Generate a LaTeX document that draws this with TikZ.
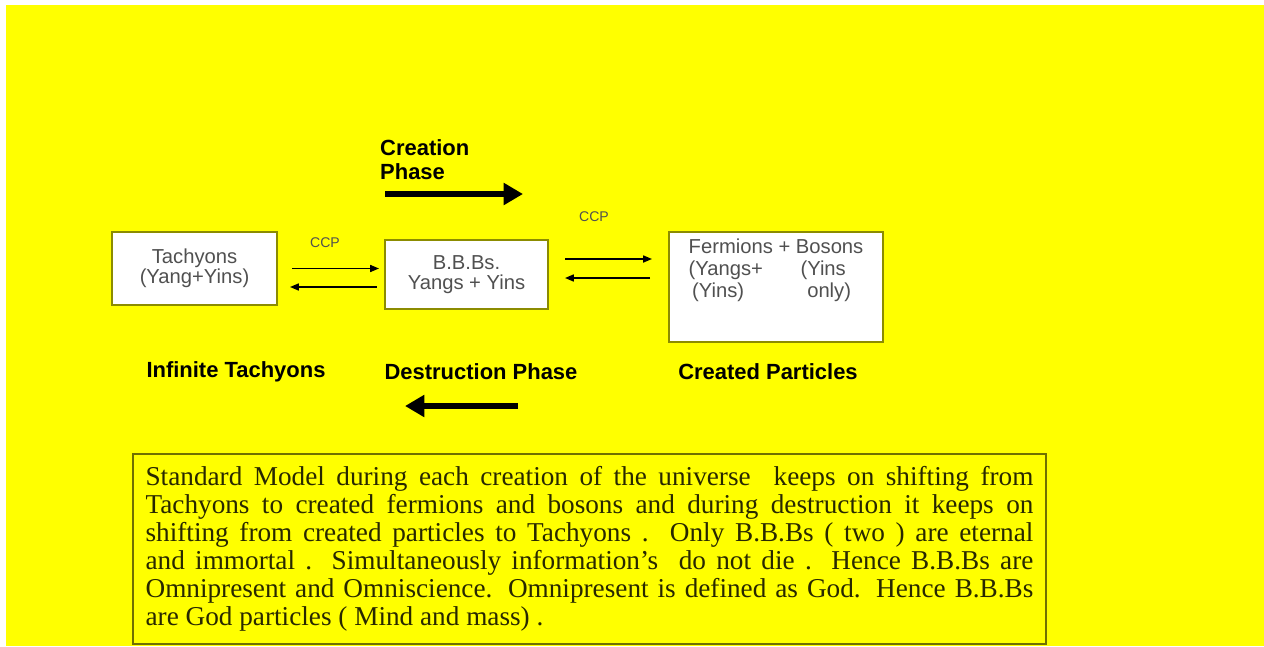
\documentclass[tikz,border=0pt]{standalone}
\usepackage{fontspec}
\setmainfont{Liberation Serif}
\setsansfont{Liberation Sans}
\usepackage{tikz}
\usetikzlibrary{positioning,calc,arrows.meta}

\definecolor{bgyellow}{RGB}{255,255,0}
\definecolor{boxline}{RGB}{140,140,0}
\definecolor{boxtext}{RGB}{80,80,80}
\definecolor{paratext}{RGB}{40,40,0}

\tikzset{
  partbox/.style = {draw=boxline, fill=white, line width=1.2pt, font=\sffamily\fontsize{11.5}{11.5}\selectfont, text=boxtext, align=center},
  phaselabel/.style = {font=\sffamily\bfseries\fontsize{12.5}{13.6}\selectfont, text=black},
  ccplabel/.style = {font=\sffamily\fontsize{8}{9}\selectfont, text=boxtext},
  thinarrow/.style = {-{Triangle[length=5pt,width=4pt]}, line width=0.8pt, black},
  fatarrow/.style = {-{Triangle[length=11pt,width=12pt]}, line width=3.4pt, black}
}

\begin{document}
\begin{tikzpicture}[x=0.02cm,y=-0.02cm]

\useasboundingbox (0,0) rectangle (1264,646);
\fill[white] (0,0) rectangle (1264,646);
\fill[bgyellow] (6,5) rectangle (1264,646);

% Particle boxes
\node[partbox, minimum width=3.3cm, minimum height=1.46cm] (tachyons) at (194.5,268.5) {Tachyons\\(Yang+Yins)};
\node[partbox, minimum width=3.26cm, minimum height=1.38cm] (bbbs) at (466.5,274.5) {B.B.Bs.\\Yangs + Yins};
\node[
   partbox,
   anchor = north west,
   minimum width = 4.28cm,
   minimum height = 2.04cm,
   inner xsep = 0.2cm,
   inner ysep = 0.12cm,
   align = left,
   font = \sffamily\fontsize{11.5}{12.5}\selectfont
] (fermions) at (668,231) {%
   \begin{tabular}[t]{@{}l@{\hspace{0.75cm}}l@{}}
   \multicolumn{2}{@{}l@{}}{Fermions + Bosons}\\
   (Yangs+ & (Yins\\
   \,(Yins) & \,\,only)\\[18pt]
   \end{tabular}};

\node[ccplabel] (ccpleft) at (325,243) {CCP};
\node[ccplabel] (ccpright) at (594,217) {CCP};

% Phase labels
\node[phaselabel, anchor=west, align=left] (creation) at (374,160) {Creation\\Phase};
\node[phaselabel] (infinite) at (236,372) {Infinite Tachyons};
\node[phaselabel] (destruction) at (481,372) {Destruction Phase};
\node[phaselabel] (created) at (768,372) {Created Particles};

\coordinate (creationstart) at (385,194);
\coordinate (creationend) at (523,194);
\coordinate (destructionstart) at (518,406);
\coordinate (destructionend) at (405,406);

% Connecting Arrows
\draw [thinarrow] ($(tachyons.east)+(14,0)$) -- ($(bbbs.west |- tachyons.east)+(-5,0)$);
\draw [thinarrow] ($(bbbs.west)+(-7,12.5)$) -- ($(tachyons.east |- bbbs.west)+(12,12.5)$);
\draw [thinarrow] ($(bbbs.east)+(16,-15.5)$) -- ($(fermions.west |- bbbs.east)+(-16,-15.5)$);
\draw [thinarrow] ($(fermions.west |- bbbs.east)+(-18,3.5)$) -- ($(bbbs.east)+(16,3.5)$);
\draw [fatarrow] (creationstart) -- (creationend);
\draw [fatarrow] (destructionstart) -- (destructionend);

% Explanation
\node[
   draw = boxline!80!black,
   line width = 1.2pt,
   minimum width = 18.26cm,
   minimum height = 3.8cm,
   text width = 17.76cm,
   text = paratext,
   font = \fontsize{15.5}{15.9}\selectfont,
   align = justify
] (standardmodel) at (589.5,549) {Standard Model during each creation of the universe\ \ keeps on shifting from\linebreak
Tachyons to created fermions and bosons and during destruction it keeps on\linebreak
shifting from created particles to Tachyons .\ \ Only B.B.Bs ( two ) are eternal\linebreak
and immortal . Simultaneously information's\ \ do not die . Hence B.B.Bs are\linebreak
Omnipresent and Omniscience. Omnipresent is defined as God. Hence B.B.Bs\linebreak
are God particles ( Mind and mass) .};

\end{tikzpicture}
\end{document}
